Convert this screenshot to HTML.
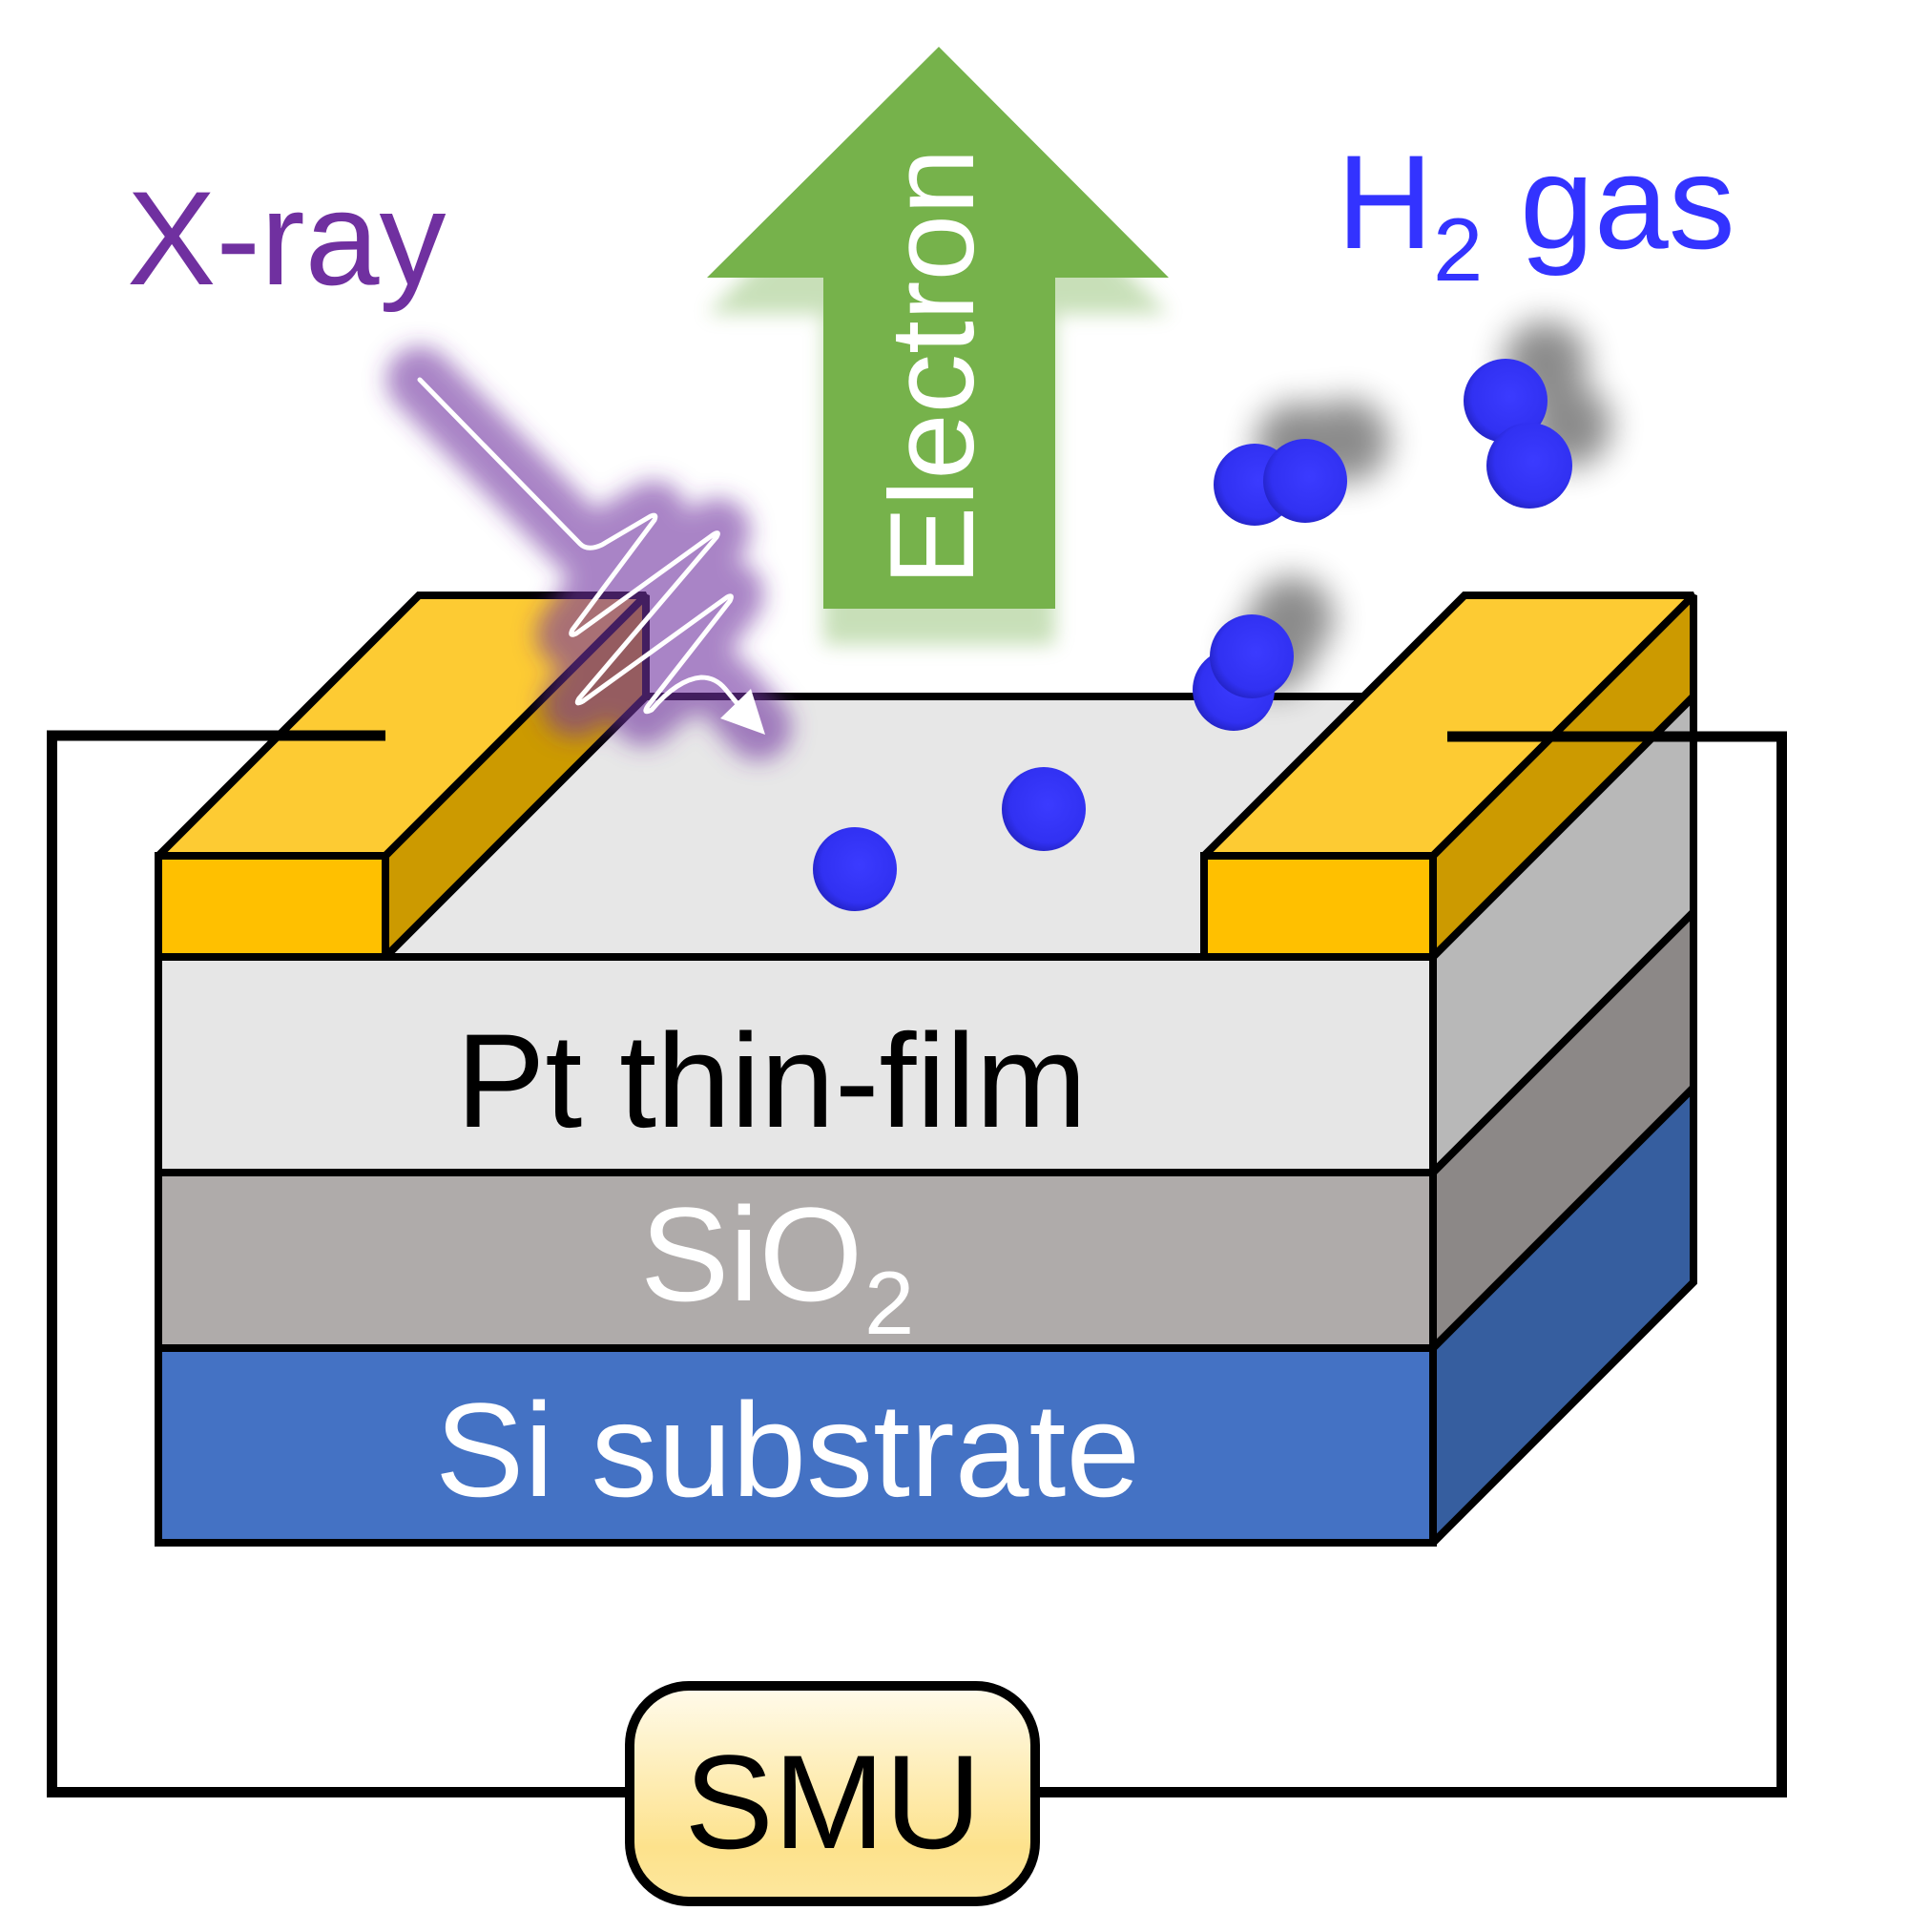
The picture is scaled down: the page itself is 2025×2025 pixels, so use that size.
<!DOCTYPE html>
<html>
<head>
<meta charset="utf-8">
<style>
  html,body{margin:0;padding:0;background:#fff;}
  svg{display:block;}
  text{font-family:"Liberation Sans", Arial, sans-serif;}
</style>
</head>
<body>
<svg width="2025" height="2025" viewBox="0 0 2025 2025" xmlns="http://www.w3.org/2000/svg">
  <defs>
    <filter id="glow" x="-30%" y="-30%" width="160%" height="160%">
      <feGaussianBlur stdDeviation="12"/>
    </filter>
    <filter id="ashadow" x="-20%" y="-20%" width="140%" height="140%">
      <feGaussianBlur stdDeviation="10"/>
    </filter>
    <filter id="mshadow" x="-80%" y="-80%" width="260%" height="260%">
      <feGaussianBlur stdDeviation="17"/>
    </filter>
    <radialGradient id="atom" cx="0.55" cy="0.45" r="0.6">
      <stop offset="0" stop-color="#3b3bff"/>
      <stop offset="0.75" stop-color="#3131f2"/>
      <stop offset="0.95" stop-color="#2424c8"/>
      <stop offset="1" stop-color="#1c1ca8"/>
    </radialGradient>
    <linearGradient id="smu" x1="0" y1="0" x2="0" y2="1">
      <stop offset="0" stop-color="#fffbec"/>
      <stop offset="0.75" stop-color="#fde28c"/>
      <stop offset="1" stop-color="#fde79e"/>
    </linearGradient>
  </defs>

  <!-- Electron arrow shadow -->
  <polygon points="984,49 1225,291 1106,291 1106,638 863,638 863,291 741,291"
           fill="#70ad47" opacity="0.38" transform="translate(0,38)" filter="url(#ashadow)"/>
  <!-- Electron arrow -->
  <polygon points="984,49 1225,291 1106,291 1106,638 863,638 863,291 741,291" fill="#76b24b"/>
  <text transform="translate(1020,614) rotate(-90)" font-size="125" fill="#ffffff">Electron</text>

  <!-- Block -->
  <g stroke="#000" stroke-width="8" stroke-linejoin="miter" stroke-miterlimit="2">
    <!-- Pt top surface -->
    <polygon points="166,1003 1502,1003 1775,730 439,730" fill="#e7e7e7"/>
    <!-- Left pad -->
    <polygon points="166,897 404,897 677,624 439,624" fill="#fdcb33"/>
    <polygon points="404,897 677,624 677,730 404,1003" fill="#cc9a00"/>
    <rect x="166" y="897" width="238" height="106" fill="#ffc000"/>
    <!-- Right pad -->
    <polygon points="1262,897 1502,897 1775,624 1535,624" fill="#fdcb33"/>
    <polygon points="1502,897 1775,624 1775,730 1502,1003" fill="#cc9a00"/>
    <rect x="1262" y="897" width="240" height="106" fill="#ffc000"/>
    <!-- Pt layer -->
    <rect x="166" y="1003" width="1336" height="226" fill="#e6e6e6"/>
    <polygon points="1502,1003 1775,730 1775,956 1502,1229" fill="#b8b8b8"/>
    <!-- SiO2 layer -->
    <rect x="166" y="1229" width="1336" height="184" fill="#afabaa"/>
    <polygon points="1502,1229 1775,956 1775,1140 1502,1413" fill="#8c8887"/>
    <!-- Si layer -->
    <rect x="166" y="1413" width="1336" height="204" fill="#4472c4"/>
    <polygon points="1502,1413 1775,1140 1775,1344 1502,1617" fill="#365e9f"/>
  </g>

  <!-- Circuit wires -->
  <g stroke="#000" stroke-width="11" fill="none" stroke-linejoin="miter" stroke-linecap="butt">
    <polyline points="404,771 54.5,771 54.5,1878.5 660,1878.5"/>
    <polyline points="1517,772 1867.5,772 1867.5,1878.5 1085,1878.5"/>
  </g>

  <!-- SMU -->
  <rect x="660" y="1767" width="425" height="226" rx="62" ry="62" fill="url(#smu)" stroke="#000" stroke-width="10"/>
  <text x="873" y="1937" font-size="140" text-anchor="middle" fill="#000">SMU</text>

  <!-- H2 molecule shadows -->
  <g fill="#000" opacity="0.45" filter="url(#mshadow)">
    <circle cx="1360" cy="466" r="44"/>
    <circle cx="1412" cy="462" r="44"/>
    <circle cx="1620" cy="380" r="44"/>
    <circle cx="1645" cy="446" r="44"/>
    <circle cx="1335" cy="683" r="43"/>
    <circle cx="1354" cy="648" r="44"/>
  </g>
  <!-- H2 molecules -->
  <g fill="url(#atom)">
    <circle cx="1315" cy="508" r="43"/>
    <circle cx="1368" cy="504" r="44"/>
    <circle cx="1578" cy="420" r="44"/>
    <circle cx="1603" cy="488" r="45"/>
    <circle cx="1293" cy="723" r="43"/>
    <circle cx="1312" cy="688" r="44"/>
    <circle cx="896" cy="911" r="44"/>
    <circle cx="1094" cy="848" r="44"/>
  </g>

  <!-- X-ray glow -->
  <path d="M440,398 L610,570 Q618,578 633,570 Q660,554 685,539 L597,665 L752,557 L603,738 L766,623 L675,747 Q705,715 738,710 Q755,712 773,737 L795,762"
        fill="none" stroke="#7030a0" stroke-opacity="0.6" stroke-width="70" stroke-linejoin="round" stroke-linecap="round" filter="url(#glow)"/>
  <!-- X-ray wave -->
  <path d="M440,398 L608,570 Q616,578 631,571 Q660,554 682,541 Q689,538 686,545 L600,660 Q596,668 604,664 L748,560 Q755,556 751,563 L607,732 Q602,740 611,735 L762,626 Q769,622 765,630 L679,740 Q673,749 683,744 Q710,712 735,710 Q750,710 760,722 L784,751"
        fill="none" stroke="#ffffff" stroke-width="5" stroke-linejoin="round" stroke-linecap="round"/>
  <polygon points="802,770 755,753 787,722" fill="#ffffff"/>

  <!-- Labels -->
  <text x="133" y="298" font-size="140" fill="#7030a0">X-ray</text>
  <text x="1401" y="260" font-size="140" fill="#3333ff">H</text>
  <text x="1502" y="294" font-size="94" fill="#3333ff">2</text>
  <text x="1593" y="260" font-size="140" fill="#3333ff">gas</text>
  <text x="478" y="1181" font-size="140" fill="#000000">Pt thin-film</text>
  <text x="671" y="1363" font-size="140" fill="#ffffff">SiO</text>
  <text x="906" y="1398" font-size="94" fill="#ffffff">2</text>
  <text x="456" y="1568" font-size="140" fill="#ffffff">Si substrate</text>
</svg>
</body>
</html>
